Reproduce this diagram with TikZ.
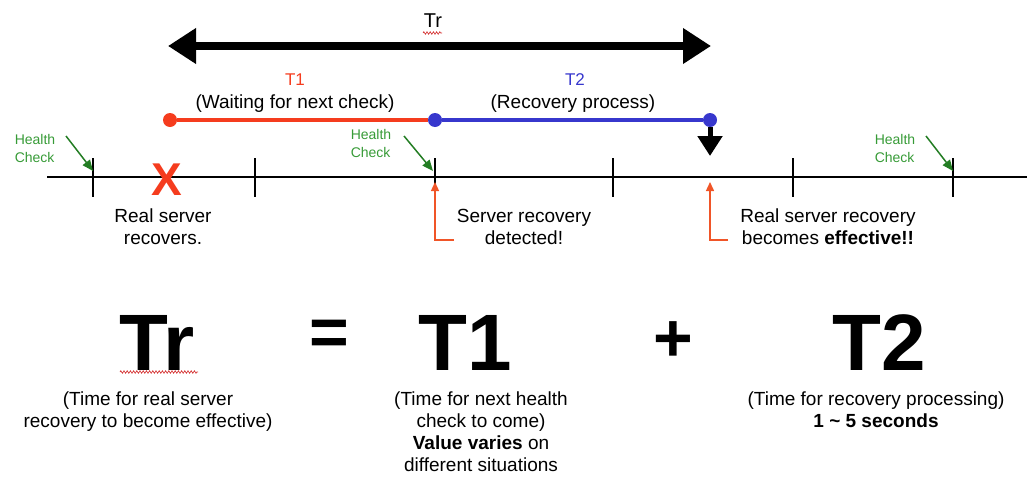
\documentclass[tikz,border=0pt]{standalone}
\usepackage{fontspec}
\setmainfont{Liberation Sans}
\usetikzlibrary{arrows.meta,decorations.pathmorphing}
\definecolor{tred}{RGB}{245,60,30}
\definecolor{tblue}{RGB}{55,55,205}
\definecolor{hgreen}{RGB}{55,155,55}
\definecolor{hgarrow}{RGB}{35,125,35}
\definecolor{morange}{RGB}{240,85,40}
\definecolor{squig}{RGB}{210,40,40}
\begin{document}
\begin{tikzpicture}[x=1pt,y=-1pt,
  body/.style={font=\fontsize{19}{22}\selectfont, align=center, inner sep=0pt},
  lbl/.style={font=\fontsize{17}{20}\selectfont, inner sep=0pt},
  hc/.style={font=\fontsize{14}{18}\selectfont, text=hgreen, align=left, inner sep=0pt},
  hcarrow/.style={draw=hgarrow, line width=1.5pt, -{Triangle[length=11pt,width=9pt]}},
  tickline/.style={line width=1.4pt},
  dot/.style={circle, inner sep=0pt, minimum size=14pt},
  bigsym/.style={font=\fontsize{80}{80}\selectfont\bfseries, inner sep=0pt},
  opsym/.style={font=\fontsize{68}{68}\selectfont\bfseries, inner sep=0pt},
  uparrow/.style={draw=morange, line width=1.4pt, -{Triangle[length=9pt,width=8pt]}},
  spell/.style={draw=squig, line width=0.6pt, decorate,
    decoration={zigzag, segment length=3.2pt, amplitude=1.3pt}}
]
\useasboundingbox (0,0) rectangle (1027,482);

% --- overall span Tr ---
\node[font=\fontsize{20}{24}\selectfont, inner sep=0pt] (trtop) at (433,21) {Tr};
\coordinate (trL) at (168,46);
\coordinate (trR) at (711,46);
\draw[line width=8pt, {Triangle[length=28pt,width=34pt]}-{Triangle[length=28pt,width=34pt]}] (trL) -- (trR);
\coordinate (sqa) at (423,33);
\coordinate (sqb) at (442,33);
\draw[spell] (sqa) -- (sqb);

% --- T1 / T2 segments ---
\node[lbl, text=tred] (t1lab) at (295,80) {T1};
\node[body] (t1sub) at (295,104) {(Waiting for next check)};
\node[lbl, text=tblue] (t2lab) at (575,80) {T2};
\node[body] (t2sub) at (573,104) {(Recovery process)};

\node[dot, fill=tred] (d1) at (170,120) {};
\node[dot, fill=tblue] (d2) at (435,120) {};
\node[dot, fill=tblue] (d3) at (710,120) {};
\draw[tred, line width=3.5pt] (d1) -- (d2);
\draw[tblue, line width=3.5pt] (d2) -- (d3);

% effective point marker
\coordinate (dn) at (710,156);
\draw[line width=5pt, -{Triangle[length=20pt,width=24pt]}] (d3) -- (dn);

% --- timeline ---
\coordinate (tl0) at (47,177);
\coordinate (tl1) at (1027,177);
\draw[line width=2.2pt] (tl0) -- (tl1);
\foreach \x/\n in {93/k1,255/k2,435/k3,613/k4,793/k5,953/k6}{
  \coordinate (\n) at (\x,177);
  \draw[tickline] (\x,158) -- (\x,197);
}

% health checks
\node[hc] (hc1) at (35,148) {Health\\Check};
\coordinate (hc1s) at (66,136);
\coordinate (hc1e) at (93,171);
\node[hc] (hc2) at (371,143) {Health\\Check};
\coordinate (hc2s) at (404,136);
\coordinate (hc2e) at (433,171);
\node[hc] (hc3) at (895,148) {Health\\Check};
\coordinate (hc3s) at (926,136);
\coordinate (hc3e) at (953,171);
\draw[hcarrow] (hc1s) -- (hc1e);
\draw[hcarrow] (hc2s) -- (hc2e);
\draw[hcarrow] (hc3s) -- (hc3e);

% failure recovery mark
\node[font=\fontsize{46}{46}\selectfont\bfseries, text=tred, inner sep=0pt] (xm) at (167,180) {X};
\node[body] (rsr) at (163,227) {Real server\\recovers.};

% detection and effective arrows
\coordinate (o1) at (435,182);
\coordinate (o1c) at (454,240);
\draw[uparrow] (o1c) -| (o1);
\node[body] (srd) at (524,227) {Server recovery\\detected!};
\coordinate (o2) at (710,182);
\coordinate (o2c) at (728,240);
\draw[uparrow] (o2c) -| (o2);
\node[body] (rse) at (828,227) {Real server recovery\\becomes \textbf{effective!!}};

% --- equation ---
\node[bigsym, anchor=base] (eqtr) at (157,370) {Tr};
\coordinate (sqc) at (120,372);
\coordinate (sqd) at (198,372);
\draw[spell] (sqc) -- (sqd);
\node[opsym] (eqeq) at (329,338) {=};
\node[bigsym, anchor=base] (eqt1) at (465,370) {T1};
\node[opsym] (eqplus) at (673,342) {+};
\node[bigsym, anchor=base] (eqt2) at (879,370) {T2};

\node[body, anchor=north] (ctr) at (148,392) {(Time for real server\\recovery to become effective)};
\node[body, anchor=north] (ct1) at (481,392) {(Time for next health\\check to come)\\\textbf{Value varies} on\\different situations};
\node[body, anchor=north] (ct2) at (876,392) {(Time for recovery processing)\\\textbf{1 \textasciitilde{} 5 seconds}};
\end{tikzpicture}
\end{document}
